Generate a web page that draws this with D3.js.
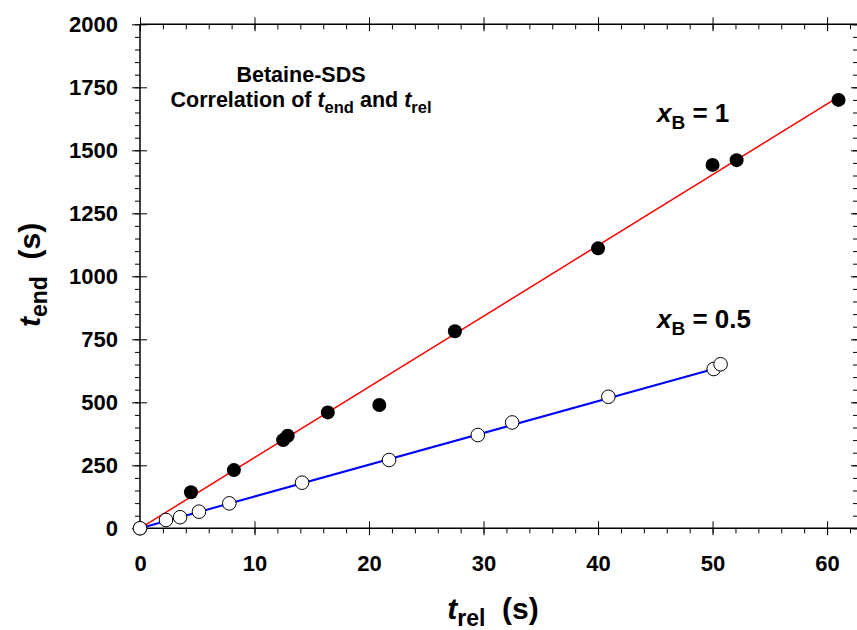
<!DOCTYPE html>
<html>
<head>
<meta charset="utf-8">
<script src="https://cdn.jsdelivr.net/npm/d3@7"></script>
<style>
  html, body { margin: 0; padding: 0; background: #fff; }
  svg { display: block; font-family: "Liberation Sans", Arial, sans-serif; font-weight: bold; }
</style>
</head>
<body>
<svg id="chart" width="857" height="630"></svg>
<script>
// ---- data ----
const tRelB1  = [0, 4.45, 8.2, 12.5, 12.9, 16.4, 20.9, 27.5, 40.0, 50.0, 52.1, 61.0];
const tEndB1  = [0, 143, 231, 350, 367, 460, 489, 782, 1111, 1442, 1461, 1700];
const tRelB05 = [0, 2.27, 3.5, 5.15, 7.8, 14.15, 21.75, 29.5, 32.5, 40.9, 50.1, 50.7];
const tEndB05 = [0, 33, 44, 66, 99, 181, 271, 370, 420, 522, 632, 651];
const fitB1X  = [0, 61.0], fitB1Y  = [0, 1712];
const fitB05X = [0, 50.1], fitB05Y = [0, 632];
const xMajor = [0, 10, 20, 30, 40, 50, 60];
const xMinor = d3.range(0, 63, 2);
const yMajor = [0, 250, 500, 750, 1000, 1250, 1500, 1750, 2000];
const yMinor = d3.range(0, 2001, 50);

// ---- layout ----
const svg = d3.select("#chart");
const L = 140, R = 858, T = 24.3, B = 528.3;
const x = d3.scaleLinear().domain([0, 62.7]).range([L, R]);
const y = d3.scaleLinear().domain([0, 2000]).range([B, T]);

function addAxis(axis, tx, ty) {
  const g = svg.append("g").attr("transform", `translate(${tx},${ty})`).call(axis);
  g.select(".domain").remove();
  g.selectAll(".tick line").attr("stroke", "#000").attr("stroke-width", 1);
  g.selectAll(".tick text").attr("font-size", 22).attr("font-weight", "bold")
    .attr("font-family", '"Liberation Sans", Arial, sans-serif').attr("fill", "#000");
  return g;
}
const none = () => "";
// bottom
addAxis(d3.axisBottom(x).tickValues(xMinor).tickSize(5).tickFormat(none), 0, B);
addAxis(d3.axisBottom(x).tickValues(xMajor).tickSize(-7).tickFormat(none), 0, B);
addAxis(d3.axisBottom(x).tickValues(xMajor).tickSize(7).tickPadding(20).tickFormat(d3.format("d")), 0, B);
// top
addAxis(d3.axisTop(x).tickValues(xMinor).tickSize(-5).tickFormat(none), 0, T);
addAxis(d3.axisTop(x).tickValues(xMajor).tickSize(7).tickFormat(none), 0, T);
addAxis(d3.axisTop(x).tickValues(xMajor).tickSize(-7).tickFormat(none), 0, T);
// left
addAxis(d3.axisLeft(y).tickValues(yMinor).tickSize(5).tickFormat(none), L, 0);
addAxis(d3.axisLeft(y).tickValues(yMajor).tickSize(-7).tickFormat(none), L, 0);
addAxis(d3.axisLeft(y).tickValues(yMajor).tickSize(8).tickPadding(14).tickFormat(d3.format("d")), L, 0);
// right
addAxis(d3.axisRight(y).tickValues(yMinor).tickSize(-5).tickFormat(none), R, 0);
addAxis(d3.axisRight(y).tickValues(yMajor).tickSize(-7).tickFormat(none), R, 0);

// frame
svg.append("path")
  .attr("d", `M${L},${B}H${R}M${L},${T}H${R}M${L},${T}V${B}M${R},${T}V${B}`)
  .attr("stroke", "#000").attr("stroke-width", 1.5).attr("fill", "none");

// fit lines
const line = d3.line().x(d => x(d[0])).y(d => y(d[1]));
svg.append("path").datum(fitB1X.map((v, i) => [v, fitB1Y[i]]))
  .attr("d", line).attr("stroke", "#ff0000").attr("stroke-width", 1.5).attr("fill", "none");
svg.append("path").datum(fitB05X.map((v, i) => [v, fitB05Y[i]]))
  .attr("d", line).attr("stroke", "#0000ff").attr("stroke-width", 2).attr("fill", "none");

// points
svg.append("g").selectAll("circle").data(tRelB1.map((v, i) => [v, tEndB1[i]])).join("circle")
  .attr("cx", d => x(d[0])).attr("cy", d => y(d[1])).attr("r", 7).attr("fill", "#000");
svg.append("g").selectAll("circle").data(tRelB05.map((v, i) => [v, tEndB05[i]])).join("circle")
  .attr("cx", d => x(d[0])).attr("cy", d => y(d[1])).attr("r", 6.8)
  .attr("fill", "#fff").attr("stroke", "#000").attr("stroke-width", 1);

// text helper: parts = [[text, style]] style: 'i' italic, 's' subscript, 'u' back up
function rich(parent, parts, subSize, subDy) {
  parts.forEach(([t, st]) => {
    const ts = parent.append("tspan").text(t);
    if (st && st.includes("i")) ts.attr("font-style", "italic");
    if (st && st.includes("s")) ts.attr("font-size", subSize).attr("dy", subDy);
    if (st && st.includes("u")) ts.attr("dy", -subDy);
  });
}

// title
svg.append("text").attr("x", 301).attr("y", 82).attr("text-anchor", "middle")
  .attr("font-size", 21.5).text("Betaine-SDS");
const t2 = svg.append("text").attr("x", 301).attr("y", 107).attr("text-anchor", "middle").attr("font-size", 21.5);
rich(t2, [["Correlation of "], ["t", "i"], ["end", "s"], [" and ", "u"], ["t", "i"], ["rel", "s"]], 16.5, 6);

// series labels
const l1 = svg.append("text").attr("x", 657).attr("y", 122).attr("font-size", 26);
rich(l1, [["x", "i"], ["B", "s"], [" = 1", "u"]], 19, 7);
const l2 = svg.append("text").attr("x", 657).attr("y", 328).attr("font-size", 26);
rich(l2, [["x", "i"], ["B", "s"], [" = 0.5", "u"]], 19, 7);

// axis titles
const xt = svg.append("text").attr("x", 493).attr("y", 619).attr("text-anchor", "middle")
  .attr("font-size", 30).style("white-space", "pre");
rich(xt, [["t", "i"], ["rel", "s"], ["  (s)", "u"]], 23, 7);
const yt = svg.append("text").attr("transform", "translate(40,275) rotate(-90)")
  .attr("text-anchor", "middle").attr("font-size", 30).style("white-space", "pre");
rich(yt, [["t", "i"], ["end", "s"], ["  (s)", "u"]], 23, 7);
</script>
</body>
</html>
